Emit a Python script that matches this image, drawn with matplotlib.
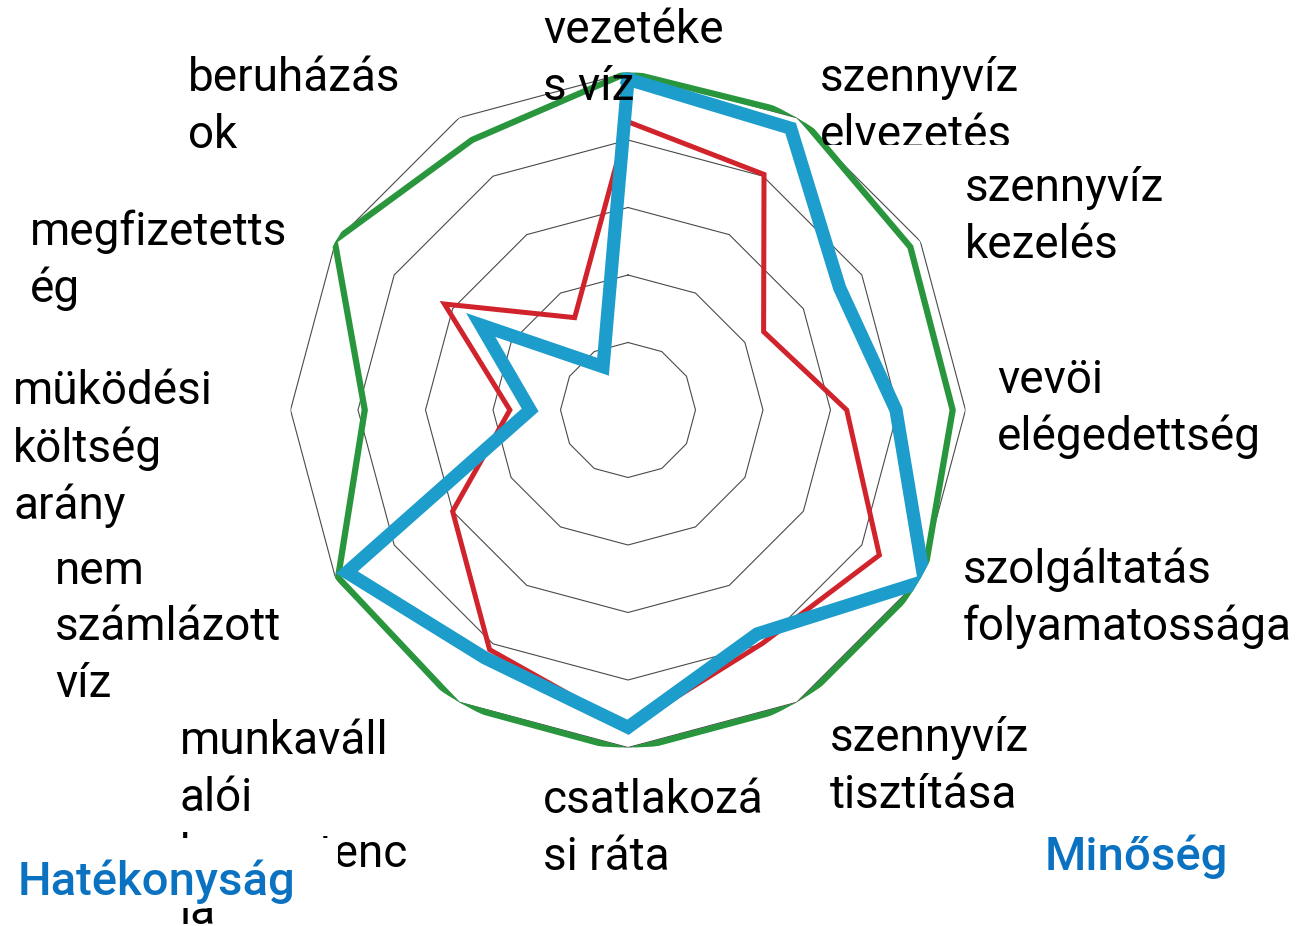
import numpy as np
import matplotlib
matplotlib.use("Agg")
import matplotlib.pyplot as plt
from matplotlib.patches import Rectangle
from matplotlib.transforms import Bbox

# ---------------- data ----------------
categories = [
    "vezetékes víz", "szennyvíz elvezetés", "szennyvíz kezelés",
    "vevöi elégedettség", "szolgáltatás folyamatossága", "szennyvíz tisztítása",
    "csatlakozási ráta", "munkavállalói kompetencia", "nem számlázott víz",
    "müködési költség arány", "megfizetettség", "beruházások",
]
# labels as they are wrapped in the picture
label_texts = [
    "vezetéke\ns víz", "szennyvíz\nelvezetés", "szennyvíz\nkezelés",
    "vevöi\nelégedettség", "szolgáltatás\nfolyamatossága", "szennyvíz\ntisztítása",
    "csatlakozá\nsi ráta", "munkaváll\nalói\nkompetenc\nia", "nem\nszámlázott\nvíz",
    "müködési\nköltség\narány", "megfizetetts\nég", "beruházás\nok",
]
green_values = [5.0, 5.05, 4.83, 4.81, 5.05, 5.05, 5.05, 5.04, 4.96, 3.9, 5.02, 4.62]
red_values   = [4.27, 4.03, 2.32, 3.24, 4.3, 3.99, 4.7, 4.1, 3.0, 1.75, 3.14, 1.58]
blue_values  = [4.9, 4.82, 3.62, 3.97, 5.07, 3.83, 4.7, 4.24, 4.81, 1.45, 2.52, 0.74]
ring_levels = [1, 2, 3, 4, 5]
group_labels = ["Hatékonyság", "Minőség"]

# ---------------- layout ----------------
W, H = 1296, 926
fig = plt.figure(figsize=(W / 100, H / 100), dpi=100)
fig.patch.set_facecolor("white")

cx, cy, R = 628, 410, 337.5  # pixel centre (top-origin) and radius of level 5
ax = fig.add_axes([(cx - R) / W, (H - cy - R) / H, 2 * R / W, 2 * R / H],
                  projection="polar")
ax.set_theta_zero_location("N")
ax.set_theta_direction(-1)
ax.set_ylim(0, max(ring_levels))
ax.axis("off")

n = len(categories)
theta = np.arange(n) * 2 * np.pi / n
theta_c = np.append(theta, theta[0])

for lvl in ring_levels:
    ax.plot(theta_c, [lvl] * (n + 1), color="#4a4a4a", lw=0.8, zorder=1)

def closed(v):
    return list(v) + [v[0]]

ax.plot(theta_c, closed(green_values), color="#29963D", lw=4.5, zorder=2,
        solid_joinstyle="miter")
ax.plot(theta_c, closed(red_values), color="#D1232B", lw=3.6, zorder=3,
        solid_joinstyle="miter")
ax.plot(theta_c, closed(blue_values), color="#1D9DCB", lw=9.5, zorder=4,
        solid_joinstyle="miter")

# ---------------- labels ----------------
label_font = dict(family="Roboto", size=33, color="black", linespacing=1.36)
# (left x, baseline of the LAST line) in pixels, top-origin
label_pos = [
    (543, 100), (820, 148), (965, 258), (997, 450), (963, 640), (830, 808),
    (543, 870), (180, 924), (55, 697), (13, 519), (30, 302), (188, 148),
]

def fx(x):
    return x / W

def fy(y):
    return 1 - y / H

texts = []
for txt, (x, y) in zip(label_texts, label_pos):
    t = fig.text(fx(x), fy(y), txt, ha="left", va="baseline", zorder=3,
                 **label_font)
    texts.append(t)

# "elvezetés" is cut off at its bottom in the picture
texts[1].set_clip_box(Bbox([[0, H - 145], [W, H]]))
texts[1].set_clip_on(True)

# white box over part of the "kompetencia" label
fig.patches.append(Rectangle((0, fy(908)), fx(338), fy(838) - fy(908),
                             transform=fig.transFigure, facecolor="white",
                             edgecolor="none", zorder=4))

blue_font = dict(family="Roboto", weight="medium", size=34, color="#0B72C1")
fig.text(fx(18), fy(895), group_labels[0], ha="left", va="baseline", zorder=5,
         **blue_font)
fig.text(fx(1045), fy(870), group_labels[1], ha="left", va="baseline", zorder=5,
         **blue_font)

fig.savefig("out.png", dpi=100, facecolor="white")
